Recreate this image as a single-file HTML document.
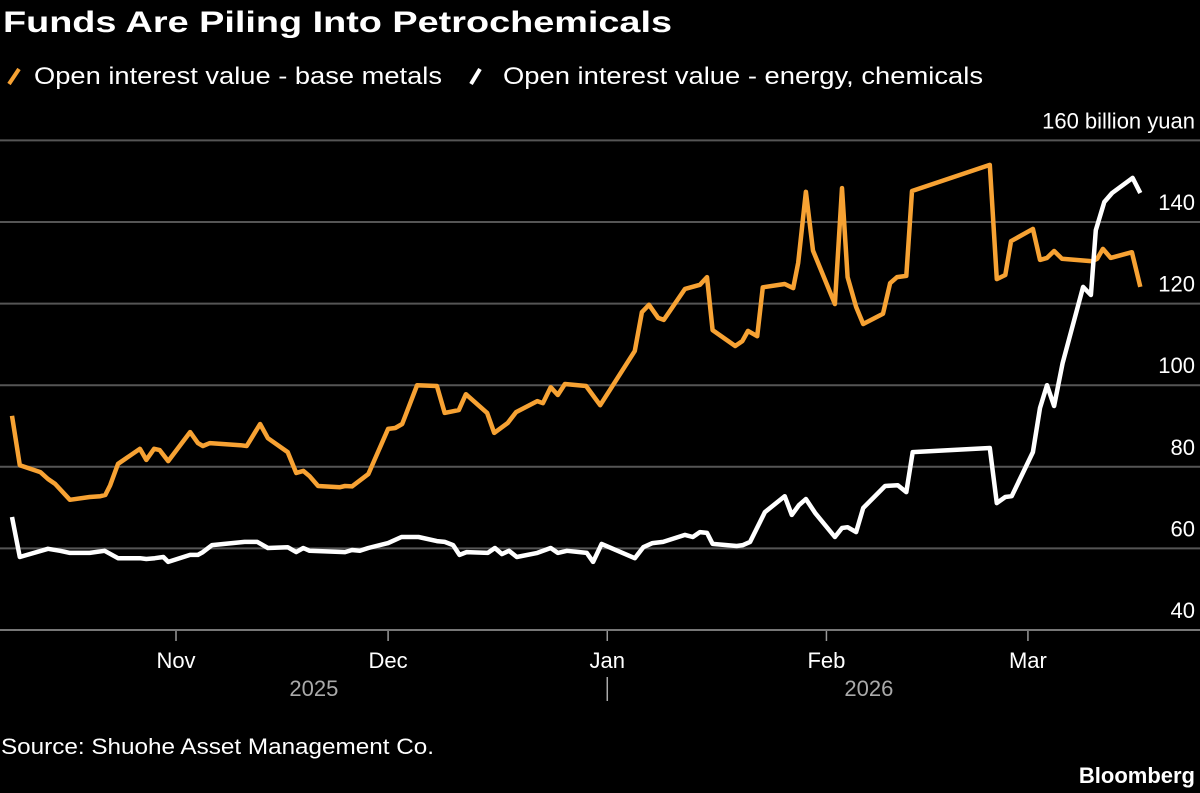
<!DOCTYPE html>
<html><head><meta charset="utf-8"><style>
html,body{margin:0;padding:0;background:#000;}
svg{display:block;font-family:"Liberation Sans Narrow","Liberation Sans",sans-serif;}
</style></head><body>
<svg id="chart" width="1200" height="793" viewBox="0 0 1200 793" xmlns="http://www.w3.org/2000/svg">
<rect width="1200" height="793" fill="#000"/>
<text x="3" y="32" fill="#fff" font-size="30" font-weight="bold" textLength="669" lengthAdjust="spacingAndGlyphs">Funds Are Piling Into Petrochemicals</text>
<g>
<line x1="9" y1="84" x2="19" y2="69" stroke="#f7a233" stroke-width="4"/>
<text x="34" y="84" fill="#fff" font-size="24" textLength="408" lengthAdjust="spacingAndGlyphs">Open interest value - base metals</text>
<line x1="471" y1="84" x2="480" y2="69" stroke="#fff" stroke-width="4"/>
<text x="503" y="84" fill="#fff" font-size="24" textLength="480" lengthAdjust="spacingAndGlyphs">Open interest value - energy, chemicals</text>
</g>
<g id="grid"></g>
<g id="series"></g>
<g id="xaxis"></g>
<text x="1" y="754" fill="#fff" font-size="22" textLength="433" lengthAdjust="spacingAndGlyphs">Source: Shuohe Asset Management Co.</text>
<text x="1195" y="783" fill="#fff" font-size="22" font-weight="bold" text-anchor="end">Bloomberg</text>
</svg>
<script>
// days since Oct 1, 2025
const metalDays = [7.8,8.9,11.8,12.9,13.9,16.0,18.8,20.3,21.0,21.7,22.8,25.9,26.8,27.9,28.7,29.9,33.0,34.1,34.8,35.8,40.1,41.0,42.9,44.0,46.8,48.0,49.0,49.9,51.1,54.2,54.9,55.9,58.2,61.0,62.0,63.0,65.1,67.9,69.0,71.0,72.0,75.0,76.0,77.9,79.1,82.1,82.9,84.0,85.0,86.0,89.0,91.0,95.9,96.9,97.9,99.2,100.0,103.0,105.1,106.1,106.9,110.1,111.1,111.9,113.2,114.0,117.1,118.3,119.0,120.1,121.1,124.2,125.2,126.0,127.2,128.2,131.0,132.0,133.0,134.3,135.1,146.1,147.1,148.3,149.1,152.2,153.2,154.2,155.2,156.3,160.6,161.3,162.1,163.2,166.2,167.4];
const metalValues = [92.5,80.4,78.7,77.0,75.8,71.9,72.6,72.8,73.1,75.5,80.7,84.4,81.7,84.4,84.1,81.4,88.5,85.8,85.1,85.8,85.3,85.1,90.5,87.0,83.6,78.5,79.0,77.7,75.3,75.0,75.3,75.2,78.2,89.3,89.5,90.5,100.0,99.8,93.2,93.9,97.8,93.2,88.3,90.7,93.4,96.1,95.6,99.5,97.6,100.3,99.8,95.1,108.4,117.9,119.7,116.5,116.0,123.6,124.6,126.5,113.5,109.6,110.8,113.3,112.0,124.0,124.8,123.8,130.0,147.4,133.0,119.9,148.3,126.5,119.2,115.0,117.5,125.0,126.5,126.8,147.6,154.0,126.0,127.0,135.3,138.3,130.7,131.2,132.9,131.0,130.4,131.0,133.4,131.2,132.6,124.1];
const energyDays = [7.8,8.9,12.9,14.6,16.0,18.8,20.9,22.8,25.9,26.8,28.0,29.2,29.9,33.0,34.1,34.8,36.1,40.7,42.5,44.0,46.8,48.0,49.0,49.9,54.9,55.9,57.0,58.2,61.0,62.9,65.3,67.9,69.0,70.2,71.1,72.1,75.1,76.1,77.1,78.1,79.2,82.1,84.0,85.0,86.3,89.1,90.0,91.2,95.9,97.1,98.4,99.9,103.0,104.1,105.1,106.1,106.9,110.3,111.2,112.2,114.3,117.1,118.1,119.1,120.1,121.4,124.2,125.2,126.0,127.2,128.2,131.3,133.1,134.3,135.2,146.1,147.1,148.3,149.2,152.2,153.2,154.2,155.2,156.4,159.3,160.4,161.1,162.3,163.4,166.3,167.4];
const energyValues = [67.7,57.9,59.9,59.4,58.9,58.9,59.4,57.6,57.6,57.4,57.6,57.9,56.7,58.4,58.4,59.1,60.8,61.6,61.6,60.1,60.3,59.1,60.1,59.4,59.1,59.6,59.4,60.1,61.3,62.8,62.8,61.8,61.6,60.8,58.4,59.1,58.9,60.1,58.6,59.4,57.9,58.9,60.1,58.9,59.4,58.9,56.7,61.1,57.6,60.3,61.3,61.6,63.3,62.8,64.0,63.8,61.1,60.6,60.8,61.6,68.9,72.8,68.2,70.6,72.1,68.7,62.8,65.0,65.2,64.0,69.9,75.3,75.5,73.8,83.6,84.6,71.1,72.6,72.8,83.6,94.4,100.0,94.9,105.4,124.1,122.1,138.0,144.9,147.1,150.8,147.1];
const yTicks = [40,60,80,100,120,140,160];
const monthLabels = ["Nov","Dec","Jan","Feb","Mar"];
const monthDays = [31,61,92,123,151.5];
const yearLabels = ["2025","2026"];
const yearDays = [50.5,129];

const NS = "http://www.w3.org/2000/svg";
const xScale = d => 176 + (d - 31) * 7.07;
const yScale = v => 630 - (v - 40) / 120 * 489.6;
function mk(tag, attrs, parent){const e=document.createElementNS(NS,tag);for(const k in attrs)e.setAttribute(k,attrs[k]);parent.appendChild(e);return e;}

const grid = document.getElementById('grid');
yTicks.forEach(t => {
  const y = yScale(t);
  const ln = mk('line',{x1:0,x2:1200,y1:y,y2:y,stroke:t===40?'#777':'#555','stroke-width':2},grid);
  
  
  const tx = mk('text',{x:1195,y:y-12,fill:'#fff','font-size':22,'text-anchor':'end'},grid);
  tx.textContent = t === 160 ? '160 billion yuan' : String(t);
  
  
});

const xa = document.getElementById('xaxis');
monthLabels.forEach((m,i) => {
  const x = xScale(monthDays[i]);
  const tk = mk('line',{x1:x,x2:x,y1:631,y2:641,stroke:'#999','stroke-width':1.5},xa);
  
  
  const tx = mk('text',{x:x,y:668,fill:'#fff','font-size':22,'text-anchor':'middle'},xa);
  tx.textContent = m;
  
  
});
yearLabels.forEach((lab,i) => {
  const tx = mk('text',{x:xScale(yearDays[i]),y:696,fill:'#aaa','font-size':22,'text-anchor':'middle'},xa);
  tx.textContent = lab;
  
  
});
const sep = mk('line',{x1:xScale(92),x2:xScale(92),y1:677,y2:701,stroke:'#aaa','stroke-width':1.5},xa);



const ser = document.getElementById('series');
function drawLine(days, vals, color, name){
  const pts = days.map((d,i) => xScale(d).toFixed(1) + ',' + yScale(vals[i]).toFixed(1)).join(' ');
  const pl = mk('polyline',{points:pts,fill:'none',stroke:color,'stroke-width':4.5,'stroke-linejoin':'round','stroke-linecap':'butt'},ser);
  
  
}
drawLine(metalDays, metalValues, '#f7a233', 'line-base-metals');
drawLine(energyDays, energyValues, '#ffffff', 'line-energy-chemicals');
</script>
</body></html>
